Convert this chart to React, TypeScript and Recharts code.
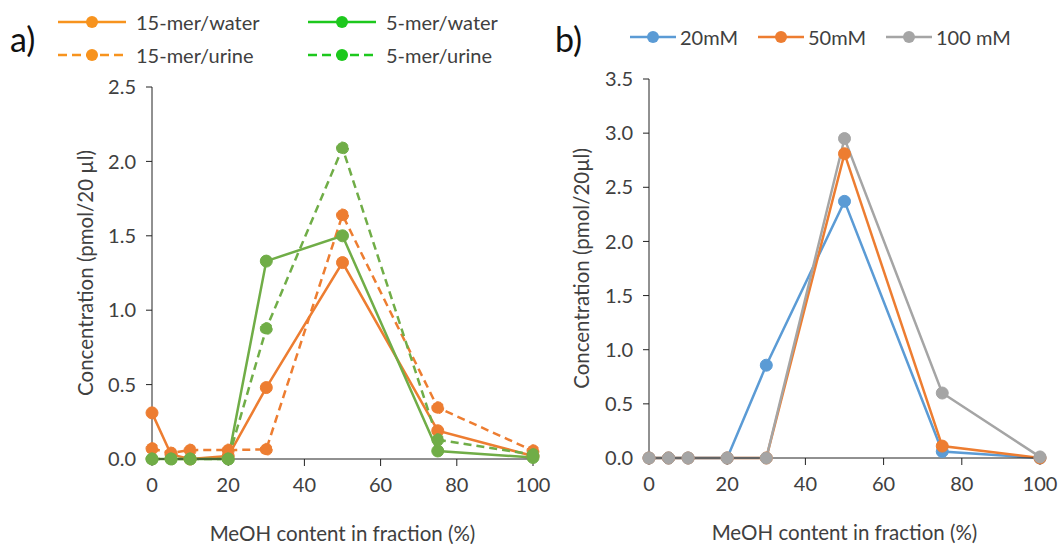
import React from 'react';
import { LineChart, Line, XAxis, YAxis } from 'recharts';

const meoh = [0, 5, 10, 20, 30, 50, 75, 100];
const mer15Water = [0.31, 0.03, 0.0, 0.02, 0.48, 1.32, 0.19, 0.02];
const mer15Urine = [0.07, 0.04, 0.06, 0.06, 0.065, 1.64, 0.345, 0.056];
const mer5Water = [0, 0, 0, 0, 1.33, 1.5, 0.054, 0.01];
const mer5Urine = [0, 0, 0, 0, 0.877, 2.09, 0.13, 0.03];

const mM20 = [0, 0, 0, 0, 0.857, 2.37, 0.06, 0];
const mM50 = [0, 0, 0, 0, 0, 2.81, 0.11, 0];
const mM100 = [0, 0, 0, 0, 0, 2.95, 0.6, 0.01];

const xTicks = [0, 20, 40, 60, 80, 100];
const yTicksA = [0, 0.5, 1.0, 1.5, 2.0, 2.5];
const yTicksB = [0, 0.5, 1.0, 1.5, 2.0, 2.5, 3.0, 3.5];

const dataA = meoh.map((x, i) => ({
  x,
  w15: mer15Water[i],
  u15: mer15Urine[i],
  w5: mer5Water[i],
  u5: mer5Urine[i],
}));
const dataB = meoh.map((x, i) => ({ x, a: mM20[i], b: mM50[i], c: mM100[i] }));

const ORANGE = '#ED7D31';
const GREEN = '#70AD47';
const BLUE = '#5B9BD5';
const GREY = '#A5A5A5';
const FONT = 'Lato, "Open Sans", sans-serif';
const TEXT = '#404040';

const tickStyle = { fill: TEXT, fontSize: 20, fontFamily: FONT };
const labelStyle = { fill: TEXT, fontSize: 20.5, fontFamily: FONT, textAnchor: 'middle' as const };

const LegendItem = ({ color, dashed, label, x, y, len = 68, textGap = 10 }: any) => (
  <div style={{ position: 'absolute', left: x, top: y - 12, height: 24, display: 'flex', alignItems: 'center' }}>
    <svg width={len} height={14}>
      <line x1={0} y1={7} x2={len} y2={7} stroke={color} strokeWidth={2.5} strokeDasharray={dashed ? '9 5' : undefined} />
      <circle cx={len / 2} cy={7} r={6} fill={color} />
    </svg>
    <span style={{ marginLeft: textGap, fontSize: 20, color: TEXT, fontFamily: FONT, whiteSpace: 'nowrap' }}>{label}</span>
  </div>
);

const dot = (color: string) => ({ r: 6, fill: color, stroke: color, strokeWidth: 1 });

export default function App() {
  return (
    <div style={{ position: 'fixed', left: 0, top: 0, width: 1060, height: 544, background: '#fff' }}>
      <div style={{ position: 'absolute', left: 10, top: 18, fontSize: 34, fontFamily: FONT, color: '#111' }}>a)</div>
      <div style={{ position: 'absolute', left: 555, top: 18, fontSize: 34, fontFamily: FONT, color: '#111' }}>b)</div>

      <LegendItem color="#F7931E" label="15-mer/water" x={58} y={22} />
      <LegendItem color="#F7931E" dashed label="15-mer/urine" x={58} y={55} />
      <LegendItem color="#1DC81D" label="5-mer/water" x={308} y={22} />
      <LegendItem color="#1DC81D" dashed label="5-mer/urine" x={308} y={55} />

      <LegendItem color={BLUE} label="20mM" x={630} y={37} len={46} textGap={4} />
      <LegendItem color={ORANGE} label="50mM" x={758} y={37} len={46} textGap={4} />
      <LegendItem color={GREY} label="100 mM" x={886} y={37} len={46} textGap={4} />

      <div style={{ position: 'absolute', left: 0, top: 0 }}>
        <LineChart width={560} height={544} data={dataA} margin={{ top: 87, right: 27, left: 82, bottom: 0 }}>
          <XAxis
            dataKey="x"
            type="number"
            domain={[0, 100]}
            ticks={xTicks}
            tick={tickStyle}
            tickSize={7}
            tickMargin={12}
            stroke="#222"
            height={85}
            label={{ value: 'MeOH content in fraction (%)', position: 'insideBottom', offset: 3, style: labelStyle }}
          />
          <YAxis
            type="number"
            domain={[0, 2.5]}
            ticks={yTicksA}
            tickFormatter={(v: number) => v.toFixed(1)}
            tick={tickStyle}
            tickSize={6}
            tickMargin={10}
            stroke="#222"
            width={70}
            label={{ value: 'Concentration (pmol/20 µl)', angle: -90, position: 'insideLeft', offset: 4, style: labelStyle }}
          />
          <Line dataKey="w15" stroke={ORANGE} strokeWidth={2.5} dot={dot(ORANGE)} isAnimationActive={false} />
          <Line dataKey="u15" stroke={ORANGE} strokeWidth={2.5} strokeDasharray="8 5" dot={dot(ORANGE)} isAnimationActive={false} />
          <Line dataKey="w5" stroke={GREEN} strokeWidth={2.5} dot={dot(GREEN)} isAnimationActive={false} />
          <Line dataKey="u5" stroke={GREEN} strokeWidth={2.5} strokeDasharray="8 5" dot={dot(GREEN)} isAnimationActive={false} />
        </LineChart>
      </div>

      <div style={{ position: 'absolute', left: 500, top: 0 }}>
        <LineChart width={560} height={544} data={dataB} margin={{ top: 79, right: 20, left: 79, bottom: 1 }}>
          <XAxis
            dataKey="x"
            type="number"
            domain={[0, 100]}
            ticks={xTicks}
            tick={tickStyle}
            tickSize={7}
            tickMargin={12}
            stroke="#222"
            height={85}
            label={{ value: 'MeOH content in fraction (%)', position: 'insideBottom', offset: 3, style: labelStyle }}
          />
          <YAxis
            type="number"
            domain={[0, 3.5]}
            ticks={yTicksB}
            tickFormatter={(v: number) => v.toFixed(1)}
            tick={tickStyle}
            tickSize={6}
            tickMargin={10}
            stroke="#222"
            width={70}
            label={{ value: 'Concentration (pmol/20µl)', angle: -90, position: 'insideLeft', offset: 3, style: labelStyle }}
          />
          <Line dataKey="a" stroke={BLUE} strokeWidth={2.5} dot={dot(BLUE)} isAnimationActive={false} />
          <Line dataKey="b" stroke={ORANGE} strokeWidth={2.5} dot={dot(ORANGE)} isAnimationActive={false} />
          <Line dataKey="c" stroke={GREY} strokeWidth={2.5} dot={dot(GREY)} isAnimationActive={false} />
        </LineChart>
      </div>
    </div>
  );
}
